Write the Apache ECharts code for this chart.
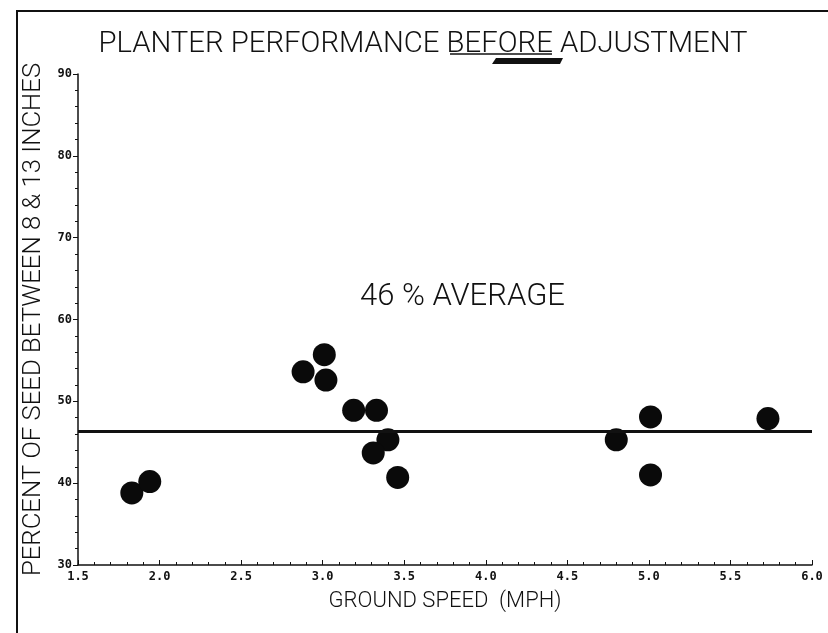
<!DOCTYPE html>
<html>
<head>
<meta charset="utf-8">
<script src="https://cdn.jsdelivr.net/npm/echarts@6/dist/echarts.min.js"></script>
<style>html,body{margin:0;padding:0;background:#fff;}#c{width:828px;height:633px;}</style>
</head>
<body>
<div id="c"></div>
<script>
// ---- data ----
const titleText = 'PLANTER PERFORMANCE BEFORE ADJUSTMENT';
const xAxisName = 'GROUND SPEED  (MPH)';
const yAxisName = 'PERCENT OF SEED BETWEEN 8 & 13 INCHES';
const averageLabel = '46 % AVERAGE';
const averageValue = 46.3;
const groundSpeed = [1.83, 1.94, 2.88, 3.01, 3.02, 3.19, 3.33, 3.40, 3.31, 3.46, 4.80, 5.01, 5.01, 5.73];
const percentSeed = [38.8, 40.2, 53.6, 55.7, 52.6, 48.9, 48.9, 45.3, 43.7, 40.7, 45.3, 48.1, 41.0, 47.9];
const xMin = 1.5, xMax = 6.0, xStep = 0.5;
const yMin = 30, yMax = 90, yStep = 10;

const points = groundSpeed.map((x, i) => [x, percentSeed[i]]);
const ink = '#111';
const fontMain = 'Roboto, "DejaVu Sans", sans-serif';

const chart = echarts.init(document.getElementById('c'), null, {renderer: 'canvas'});
chart.setOption({
  backgroundColor: '#fff',
  animation: false,
  title: {
    text: titleText,
    left: 418, top: 25, textAlign: 'center',
    textStyle: {fontFamily: fontMain, fontWeight: 300, fontSize: 29.3, color: ink}
  },
  grid: {left: 78, right: 16, top: 74, bottom: 68},
  xAxis: {
    type: 'value', min: xMin, max: xMax, interval: xStep,
    name: xAxisName, nameLocation: 'middle', nameGap: 25,
    nameTextStyle: {fontFamily: fontMain, fontSize: 22, color: ink, fontWeight: 300},
    axisLine: {show: true, lineStyle: {color: ink, width: 1.5}},
    axisTick: {show: true, length: 5, inside: true, lineStyle: {color: ink}},
    minorTick: {show: true, splitNumber: 5, length: 3, lineStyle: {color: ink}},
    axisLabel: {fontFamily: '"DejaVu Sans Mono", monospace', fontWeight: 'bold', fontSize: 12, color: ink, margin: 6,
      formatter: v => v.toFixed(1)},
    splitLine: {show: false}
  },
  yAxis: {
    type: 'value', min: yMin, max: yMax, interval: yStep,
    name: yAxisName, nameLocation: 'middle', nameGap: 19, nameRotate: 90,
    nameTextStyle: {fontFamily: fontMain, fontSize: 25.7, color: ink, fontWeight: 300},
    axisLine: {show: true, lineStyle: {color: ink, width: 1.5}},
    axisTick: {show: true, length: 5, lineStyle: {color: ink}},
    minorTick: {show: true, splitNumber: 5, length: 3, lineStyle: {color: ink}},
    axisLabel: {fontFamily: '"DejaVu Sans Mono", monospace', fontWeight: 'bold', fontSize: 12, color: ink, margin: 6},
    splitLine: {show: false}
  },
  series: [{
    type: 'scatter',
    data: points,
    symbol: 'circle',
    symbolSize: 23,
    itemStyle: {color: '#0a0a0a', opacity: 1},
    markLine: {
      silent: true,
      symbol: ['none', 'none'],
      label: {show: false},
      lineStyle: {color: ink, width: 3, type: 'solid'},
      data: [{yAxis: averageValue}]
    }
  }],
  graphic: [
    {type: 'rect', shape: {x: 17, y: 11, width: 820, height: 630},
     style: {fill: 'none', stroke: ink, lineWidth: 2}, silent: true},
    {type: 'text', left: 360, top: 282,
     style: {text: averageLabel, fontFamily: fontMain, fontWeight: 300, fontSize: 31, fill: ink}},
    {type: 'line', shape: {x1: 450, y1: 54, x2: 552, y2: 54}, style: {stroke: ink, lineWidth: 1.5}},
    {type: 'polygon', shape: {points: [[496, 58], [563, 58], [560, 64], [492, 64]]}, style: {fill: ink}}
  ]
});
</script>
</body>
</html>
